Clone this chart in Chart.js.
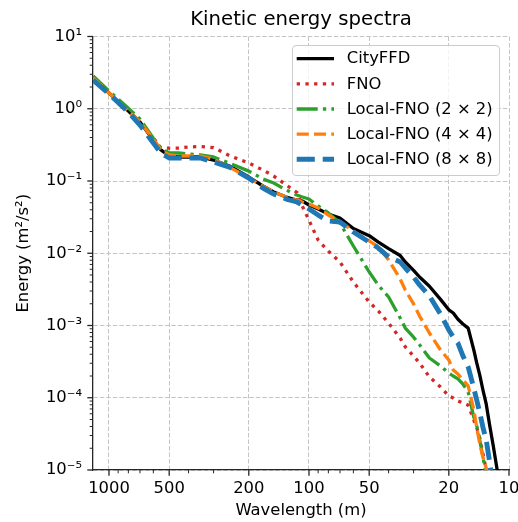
<!DOCTYPE html>
<html>
<head>
<meta charset="utf-8">
<script src="https://cdn.jsdelivr.net/npm/chart.js@4.4.1/dist/chart.umd.min.js"></script>
<style>
  html, body { margin: 0; padding: 0; background: #fff; }
  canvas { display: block; }
</style>
</head>
<body>
<canvas id="spectraChart" width="518" height="522"></canvas>
<script>
// wavelength (m) and kinetic energy (m^2/s^2)
const wavelength = [1200, 1000, 800, 700, 600, 550, 500, 450, 400, 350,
    300, 250, 200, 170, 150, 130, 115, 108, 100, 90,
    80, 70, 60, 50, 45, 40, 35, 33, 30, 28,
    25, 22, 20, 19, 18, 17, 16, 15, 14.5, 14,
    13.5, 13, 12.5, 12, 11]

const cityffd = [2.67, 1.65, 0.93, 0.656, 0.369, 0.269, 0.222, 0.215, 0.215, 0.215,
    0.195, 0.161, 0.1135, 0.0853, 0.0705, 0.060, 0.0546, 0.0528, 0.0465, 0.041,
    0.0349, 0.0308, 0.022, 0.0175, 0.0143, 0.0116, 0.0093, 0.00757, 0.0058, 0.00469,
    0.0035, 0.0023, 0.00165, 0.00149, 0.00122, 0.00105, 0.00092, 0.00046, 0.000303, 0.000206,
    0.000128, 8.2e-5, 4.2e-5, 2.2e-5, 5e-6]

const fno = [2.75, 1.70, 0.96, 0.66, 0.394, 0.286, 0.286, 0.286, 0.296, 0.30,
    0.29, 0.225, 0.177, 0.142, 0.117, 0.088, 0.0695, 0.045, 0.0285, 0.0152,
    0.0107, 0.00757, 0.0040, 0.00211, 0.00159, 0.00108, 0.00067, 0.000505, 0.000378, 0.000303,
    0.000194, 0.000141, 0.000106, 9.9e-5, 9.0e-5, 8.5e-5, 7.9e-5, 4.9e-5, 3.9e-5, 2.77e-5,
    1.7e-5, 1.0e-5, 5e-6, 3e-6, 2e-6]

const localFno2 = [2.84, 1.76, 1.02, 0.72, 0.39, 0.286, 0.244, 0.244, 0.237, 0.229,
    0.215, 0.177, 0.137, 0.1066, 0.0938, 0.075, 0.064, 0.060, 0.0563, 0.0451,
    0.0361, 0.0262, 0.0126, 0.0055, 0.0036, 0.00248, 0.00127, 0.00092, 0.00069, 0.00054,
    0.000355, 0.000275, 0.00022, 0.0002, 0.000182, 0.000155, 0.00012, 5.4e-5, 4.1e-5, 2.6e-5,
    1.5e-5, 8.7e-6, 5e-6, 3e-6, 2e-6]

const localFno4 = [2.67, 1.65, 0.93, 0.656, 0.381, 0.269, 0.229, 0.222, 0.222, 0.222,
    0.20, 0.156, 0.110, 0.085, 0.0705, 0.060, 0.0546, 0.0512, 0.048, 0.0423,
    0.0338, 0.0271, 0.0203, 0.0148, 0.0122, 0.0081, 0.0044, 0.0031, 0.00199, 0.00135,
    0.000787, 0.000458, 0.000333, 0.000242, 0.000213, 0.000176, 0.000146, 6.8e-5, 3.9e-5, 2.3e-5,
    1.5e-5, 1.07e-5, 5e-6, 3e-6, 2e-6]

const localFno8 = [2.50, 1.60, 0.90, 0.595, 0.336, 0.244, 0.208, 0.208, 0.208, 0.208,
    0.183, 0.156, 0.110, 0.080, 0.066, 0.0563, 0.0512, 0.0466, 0.041, 0.0338,
    0.0279, 0.0271, 0.0197, 0.0143, 0.0118, 0.00888, 0.00757, 0.00625, 0.00469, 0.00364,
    0.00257, 0.00144, 0.000867, 0.00069, 0.00057, 0.00038, 0.000267, 0.000136, 9.3e-5, 6.2e-5,
    3.9e-5, 2.6e-5, 1.3e-5, 6e-6, 2e-6]

const seriesNames = ['CityFFD', 'FNO', 'Local-FNO (2 × 2)', 'Local-FNO (4 × 4)', 'Local-FNO (8 × 8)']
const seriesValues = [cityffd, fno, localFno2, localFno4, localFno8]

const xTickLabels = [1000, 500, 200, 100, 50, 20, 10]
const yTickExponents = [-5, -4, -3, -2, -1, 0, 1]

// line looks, matplotlib tab colours
const lineStyles = [
    {color: '#000000', width: 3.3, dash: []},
    {color: '#d62728', width: 3.3, dash: [3.3, 5.4]},
    {color: '#2ca02c', width: 3.3, dash: [21, 5.2, 3.3, 5.2]},
    {color: '#ff7f0e', width: 3.3, dash: [12.1, 5.2]},
    {color: '#1f77b4', width: 4.9, dash: [18.1, 7.9]},
]

const FONT = 'DejaVu Sans'
const TICK_SIZE = 16.4
const GRID_COLOR = '#c4c4c4'
const AXIS_COLOR = '#262626'

const sup = {'-': '⁻', '0': '⁰', '1': '¹', '2': '²', '3': '³', '4': '⁴', '5': '⁵'}

const isMajorX = (v) => xTickLabels.some(t => Math.abs(t - v) < 1e-6)
const isMajorY = (v) => {
    const e = Math.log10(v)
    return Math.abs(e - Math.round(e)) < 1e-9 && yTickExponents.includes(Math.round(e))
}

const logTicks = (lo, hi) => {
    const out = []
    for (let e = -6; e <= 4; e++) {
        for (let m = 1; m <= 9; m++) {
            const v = m * Math.pow(10, e)
            if (v >= lo * 0.999999 && v <= hi * 1.000001) out.push({value: v})
        }
    }
    return out
}

// tick marks like matplotlib: outward, majors longer than minors
const axisTicks = {
    id: 'axisTicks',
    afterDraw(chart) {
        const {ctx, chartArea: a, scales: {x, y}} = chart
        ctx.save()
        ctx.strokeStyle = AXIS_COLOR
        y.ticks.forEach(t => {
            const major = isMajorY(t.value)
            const py = y.getPixelForValue(t.value)
            ctx.lineWidth = major ? 1.3 : 1
            ctx.beginPath()
            ctx.moveTo(a.left, py)
            ctx.lineTo(a.left - (major ? 5.7 : 3.3), py)
            ctx.stroke()
        })
        x.ticks.forEach(t => {
            const major = isMajorX(t.value)
            const px = x.getPixelForValue(t.value)
            ctx.lineWidth = major ? 1.3 : 1
            ctx.beginPath()
            ctx.moveTo(px, a.bottom)
            ctx.lineTo(px, a.bottom + (major ? 5.7 : 3.3))
            ctx.stroke()
        })
        ctx.restore()
    }
}

// legend box in the upper right corner of the axes
const lineLegend = {
    id: 'lineLegend',
    afterDraw(chart) {
        const {ctx} = chart
        ctx.save()
        ctx.beginPath()
        ctx.roundRect(292.5, 45.5, 207, 130, 3.5)
        ctx.fillStyle = 'rgba(255,255,255,0.8)'
        ctx.fill()
        ctx.lineWidth = 1
        ctx.strokeStyle = '#cccccc'
        ctx.stroke()

        chart.data.datasets.forEach((ds, i) => {
            const yy = 58.7 + i * 25.15
            ctx.beginPath()
            ctx.setLineDash(ds.borderDash)
            ctx.lineDashOffset = 0
            ctx.lineWidth = ds.borderWidth
            ctx.strokeStyle = ds.borderColor
            ctx.lineCap = 'butt'
            ctx.moveTo(296.7, yy)
            ctx.lineTo(334, yy)
            ctx.stroke()
            ctx.setLineDash([])
            ctx.fillStyle = '#000'
            ctx.font = `${TICK_SIZE}px "${FONT}"`
            ctx.textBaseline = 'middle'
            ctx.textAlign = 'left'
            ctx.fillText(ds.label, 346.7, yy + 0.5)
        })
        ctx.restore()
    }
}

Chart.defaults.font.family = FONT
Chart.defaults.color = '#000'

const ctx = document.getElementById('spectraChart').getContext('2d')
const chart = new Chart(ctx, {
    type: 'line',
    data: {
        datasets: seriesValues.map((vals, i) => ({
            label: seriesNames[i],
            data: wavelength.map((w, j) => ({x: w, y: vals[j]})),
            borderColor: lineStyles[i].color,
            borderWidth: lineStyles[i].width,
            borderDash: lineStyles[i].dash,
            borderCapStyle: 'butt',
            borderJoinStyle: 'round',
            pointRadius: 0,
            tension: 0,
            fill: false,
            clip: 0,
            order: seriesValues.length - 1 - i,
        })),
    },
    options: {
        responsive: false,
        animation: false,
        events: [],
        layout: {padding: {top: 0, right: 9, bottom: 0, left: 0}},
        plugins: {
            legend: {display: false},
            tooltip: {enabled: false},
            title: {
                display: true,
                text: 'Kinetic energy spectra',
                fullSize: false,
                color: '#000',
                font: {size: 19.7, weight: 'normal', family: FONT},
                padding: {top: 8, bottom: 4.86},
            },
        },
        scales: {
            x: {
                type: 'logarithmic',
                reverse: true,
                min: 10,
                max: 1202,
                afterBuildTicks: (scale) => { scale.ticks = logTicks(10, 1202) },
                afterFit: (scale) => {
                    scale.height = 52
                    scale.paddingLeft = 0
                    scale.paddingRight = 0
                },
                ticks: {
                    autoSkip: false,
                    maxRotation: 0,
                    padding: 9,
                    color: '#000',
                    font: {size: TICK_SIZE},
                    callback: (v) => isMajorX(v) ? String(Math.round(v)) : '',
                },
                grid: {
                    drawTicks: false,
                    lineWidth: 1,
                    color: (c) => c.tick && isMajorX(c.tick.value) ? GRID_COLOR : 'rgba(0,0,0,0)',
                },
                border: {display: true, color: AXIS_COLOR, width: 1.3, dash: [4.5, 2]},
                title: {
                    display: true,
                    text: 'Wavelength (m)',
                    color: '#000',
                    font: {size: TICK_SIZE},
                    padding: {top: 0, bottom: 1},
                },
            },
            y: {
                type: 'logarithmic',
                min: 1e-5,
                max: 10,
                afterBuildTicks: (scale) => { scale.ticks = logTicks(1e-5, 10) },
                afterFit: (scale) => {
                    scale.width = 93
                    scale.paddingTop = 0
                    scale.paddingBottom = 0
                },
                ticks: {
                    autoSkip: false,
                    padding: 11,
                    color: '#000',
                    font: {size: TICK_SIZE},
                    callback: (v) => isMajorY(v)
                        ? '10' + String(Math.round(Math.log10(v))).split('').map(c => sup[c]).join('')
                        : '',
                },
                grid: {
                    drawTicks: false,
                    lineWidth: 1,
                    color: (c) => c.tick && isMajorY(c.tick.value) ? GRID_COLOR : 'rgba(0,0,0,0)',
                },
                border: {display: true, color: AXIS_COLOR, width: 1.3, dash: [4.5, 2]},
                title: {
                    display: true,
                    text: 'Energy (m²/s²)',
                    color: '#000',
                    font: {size: TICK_SIZE},
                    padding: {top: 14, bottom: 0},
                },
            },
        },
    },
    plugins: [axisTicks, lineLegend],
})
</script>
</body>
</html>
